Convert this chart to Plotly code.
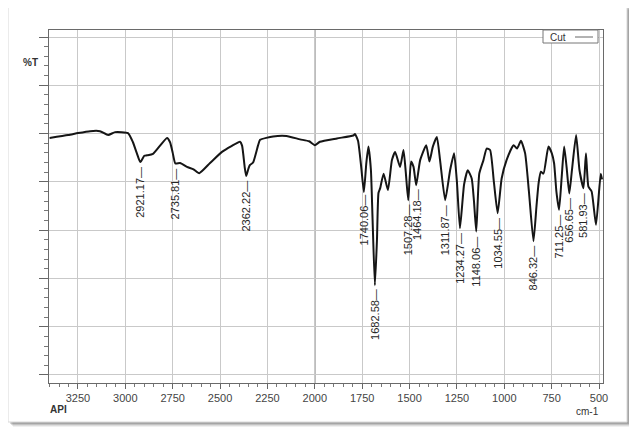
import numpy as np
import plotly.graph_objects as go

# ---------------- data ----------------
wavenumber = [3400, 3302, 3250, 3186, 3134, 3091, 3054, 2986, 2960, 2940, 2921, 2900, 2886, 2854,
              2780, 2764, 2750, 2736, 2711, 2675, 2640, 2610, 2553, 2490, 2440, 2395, 2384, 2370,
              2362, 2350, 2342, 2326, 2300, 2289, 2220, 2150, 2078, 2030, 2000, 1973, 1883, 1797,
              1788, 1772, 1755, 1741, 1728, 1717, 1704, 1695, 1683, 1672, 1664, 1655, 1637, 1614,
              1593, 1576, 1550, 1532, 1520, 1507, 1492, 1479, 1465, 1444, 1412, 1395, 1377, 1356,
              1339, 1312, 1286, 1265, 1250, 1234, 1212, 1193, 1172, 1160, 1148, 1132, 1110, 1093,
              1075, 1055, 1035, 1014, 988, 951, 933, 912, 890, 870, 846, 830, 819, 807, 793, 767,
              749, 737, 725, 711, 697, 684, 671, 657, 643, 621, 603, 582, 569, 556, 539, 516, 491, 484]
transmittance = [49.1, 49.7, 50.1, 50.5, 50.5, 49.7, 50.3, 50.1, 48.2, 46.0, 44.1, 45.4, 45.5, 45.8,
                 49.1, 48.2, 46.0, 43.8, 43.9, 43.1, 42.6, 41.8, 43.9, 46.2, 47.4, 48.3, 47.5, 43.0,
                 41.2, 42.8, 43.5, 44.0, 47.5, 48.7, 49.4, 49.5, 48.8, 48.4, 47.6, 48.3, 49.0, 49.6,
                 49.9, 48.5, 43.0, 37.9, 44.0, 47.3, 42.5, 32.0, 18.6, 28.0, 37.7, 38.7, 41.7, 38.3,
                 44.5, 46.2, 43.1, 46.6, 42.0, 36.2, 44.2, 43.1, 39.3, 44.5, 47.6, 44.2, 47.3, 49.3,
                 44.5, 36.2, 42.4, 45.9, 40.0, 30.4, 39.5, 42.4, 40.7, 36.0, 29.7, 41.7, 44.5, 46.9,
                 46.6, 40.0, 33.5, 40.7, 44.5, 47.6, 46.9, 48.5, 45.9, 38.0, 27.7, 35.0, 39.7, 42.1, 41.7, 47.3,
                 45.9, 43.8, 38.0, 34.2, 41.0, 47.3, 43.0, 37.6, 42.4, 49.7, 42.4, 38.7, 45.9, 39.0, 38.0, 31.1, 41.7, 40.5]

peak_positions = [2921.17, 2735.81, 2362.22, 1740.06, 1682.58, 1507.28, 1464.18, 1311.87,
                  1234.27, 1148.06, 1034.55, 846.32, 711.25, 656.65, 581.93]
peak_labels = ["2921.17", "2735.81", "2362.22", "1740.06", "1682.58", "1507.28", "1464.18", "1311.87",
               "1234.27", "1148.06", "1034.55", "846.32", "711.25", "656.65", "581.93"]

x_tick_values = [3250, 3000, 2750, 2500, 2250, 2000, 1750, 1500, 1250, 1000, 750, 500]
x_tick_labels = ["3250", "3000", "2750", "2500", "2250", "2000", "1750", "1500", "1250", "1000", "750", "500"]
series_name = "Cut"

# ---------------- layout geometry (window pixel coords) ----------------
OFF = 8                                 # default page body margin
W, H = 637 - 2 * OFF, 440 - 2 * OFF     # figure size that fits the window
L, R, T, B = 49, 603, 30, 383           # plot area pixel box in the window
pw, ph = R - L, B - T


def px(x):
    return (x - L) / pw


def py(y):
    return (B - y) / ph


FONT = "Liberation Sans, Arial, sans-serif"

fig = go.Figure()
fig.add_trace(go.Scatter(x=wavenumber, y=transmittance, mode="lines", name=series_name,
                         line=dict(color="#151515", width=2, shape="spline", smoothing=0.5),
                         showlegend=False, hoverinfo="x+y"))

# peak labels (rotated, with leader dash)
w_sorted = np.array(wavenumber[::-1], dtype=float)
t_sorted = np.array(transmittance[::-1], dtype=float)
for pos, lab in zip(peak_positions, peak_labels):
    yv = float(np.interp(pos, w_sorted, t_sorted))
    fig.add_annotation(x=pos, y=yv, xref="x", yref="y", text=lab + "\u2014", showarrow=False,
                       textangle=-90, xanchor="center", yanchor="top", yshift=-3,
                       font=dict(family=FONT, size=11, color="#262626"))

# card background with soft shadow
shapes = []
for off, col in [(5, "rgba(0,0,0,0.06)"), (4, "rgba(0,0,0,0.08)"), (3, "rgba(0,0,0,0.12)"), (2, "rgba(0,0,0,0.15)")]:
    shapes.append(dict(type="rect", xref="paper", yref="paper", layer="below",
                       x0=px(8 + off), x1=px(627 + off), y0=py(422 + off), y1=py(5 + off),
                       fillcolor=col, line=dict(width=0)))
shapes.append(dict(type="rect", xref="paper", yref="paper", layer="below",
                   x0=px(8), x1=px(627), y0=py(422), y1=py(5),
                   fillcolor="white", line=dict(color="#d8d8d8", width=1)))
# legend box and sample line
shapes.append(dict(type="rect", xref="paper", yref="paper",
                   x0=px(543), x1=px(598), y0=py(43), y1=py(30),
                   fillcolor="white", line=dict(color="#777", width=1)))
shapes.append(dict(type="line", xref="paper", yref="paper",
                   x0=px(575), x1=px(593), y0=py(37), y1=py(37),
                   line=dict(color="#666", width=1)))
fig.update_layout(shapes=shapes)
fig.add_vline(x=2000, line=dict(color="#8a8a8a", width=1.5), layer="below")

fig.add_annotation(xref="paper", yref="paper", x=px(548), y=py(37), text=series_name, showarrow=False,
                   xanchor="left", yanchor="middle", font=dict(family=FONT, size=10, color="#333"))
fig.add_annotation(xref="paper", yref="paper", x=px(21), y=py(63), text="<b>%T</b>", showarrow=False,
                   xanchor="left", yanchor="middle", font=dict(family=FONT, size=10, color="#333"))
fig.add_annotation(xref="paper", yref="paper", x=px(48), y=py(410), text="<b>API</b>", showarrow=False,
                   xanchor="left", yanchor="middle", font=dict(family=FONT, size=10, color="#333"))
fig.add_annotation(xref="paper", yref="paper", x=px(601), y=py(411), text="cm-1", showarrow=False,
                   xanchor="right", yanchor="middle", font=dict(family=FONT, size=10, color="#333"))

fig.update_xaxes(range=[3403, 479], tickmode="array", tickvals=x_tick_values, ticktext=x_tick_labels,
                 showgrid=True, gridcolor="#c9c9c9", gridwidth=1, zeroline=False,
                 showline=True, linecolor="#6a6a6a", linewidth=1, mirror=True,
                 ticks="outside", ticklen=5, tickcolor="#666",
                 minor=dict(dtick=50, tick0=0, ticks="outside", ticklen=3, tickcolor="#777", showgrid=False),
                 tickfont=dict(family=FONT, size=11, color="#444"))
fig.update_yaxes(range=[-1.66, 71.45], tickmode="linear", tick0=0, dtick=10, showticklabels=False,
                 showgrid=True, gridcolor="#c9c9c9", gridwidth=1, zeroline=False,
                 showline=True, linecolor="#6a6a6a", linewidth=1, mirror=True,
                 ticks="outside", ticklen=9, tickcolor="#666",
                 minor=dict(dtick=2, tick0=0, ticks="outside", ticklen=4, tickcolor="#777", showgrid=False))

fig.update_layout(width=W, height=H,
                  margin=dict(l=L - OFF, r=W - (R - OFF), t=T - OFF, b=H - (B - OFF), pad=0),
                  paper_bgcolor="white", plot_bgcolor="rgba(0,0,0,0)", showlegend=False)

fig.write_html("out.html")
